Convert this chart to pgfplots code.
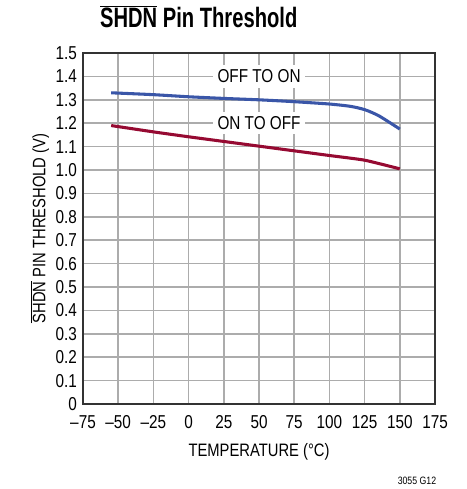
\documentclass[border=0pt]{standalone}
\usepackage{pgfplots}
\pgfplotsset{compat=1.18}
\usepackage{fontspec}
\setmainfont{Liberation Sans}[FakeStretch=0.82]
\newfontfamily\titlefont{Liberation Sans}[FakeStretch=0.72]
\definecolor{offon}{RGB}{58,86,168}
\definecolor{onoff}{RGB}{150,10,50}
\begin{document}
\begin{tikzpicture}
\begin{axis}[
  scale only axis, width=264pt, height=263.25pt,
  xmin=-75, xmax=175, ymin=0, ymax=1.5,
  xtick={-75,-50,...,175},
  xticklabels={\textendash75,\textendash50,\textendash25,0,25,50,75,100,125,150,175},
  ytick={0,0.1,...,1.5},
  yticklabels={0,0.1,0.2,0.3,0.4,0.5,0.6,0.7,0.8,0.9,1.0,1.1,1.2,1.3,1.4,1.5},
  major tick length=0pt,
  grid=major,
  major grid style={gray!65, line width=1.2pt},
  axis line style={black!80, line width=1.2pt},
  ticklabel style={font=\fontsize{14}{15}\selectfont},
  xticklabel style={yshift=-5pt},
  yticklabel style={xshift=-1pt},
  xlabel={TEMPERATURE (°C)},
  ylabel={\(\overline{\mbox{SHDN}}\) PIN THRESHOLD (V)},
  label style={font=\fontsize{13.5}{14}\selectfont},
  xlabel style={yshift=-4.5pt},
  ylabel style={yshift=-2pt},
  clip=false,
]
% frame of the whole picture (466x489 px)
\path (axis cs:-133.95,-0.363) rectangle (axis cs:197,1.7265);
\addplot[offon, line width=2.3pt, smooth, tension=0.4] coordinates {
(-55,1.330) (-25,1.322) (0,1.313) (25,1.306) (50,1.300) (75,1.292) (100,1.282) (115,1.272) (125,1.258) (135,1.232) (150,1.175)
};
\addplot[onoff, line width=2.3pt, smooth, tension=0.3] coordinates {
(-55,1.190) (-25,1.163) (0,1.142) (25,1.122) (50,1.102) (75,1.082) (100,1.062) (125,1.042) (150,1.005)
};
\node[fill=white, inner sep=3.5pt, font=\fontsize{14}{15}\selectfont] at (axis cs:50,1.4) {OFF TO ON};
\node[fill=white, inner sep=3.5pt, font=\fontsize{14}{15}\selectfont] at (axis cs:50,1.2) {ON TO OFF};
\node[anchor=base west, inner sep=0pt, font=\fontsize{21}{22}\titlefont\bfseries\selectfont] at (axis cs:-63,1.607) {\(\overline{\mbox{SHDN}}\) Pin Threshold};
\node[anchor=base east, inner sep=0pt, font=\fontsize{8}{9}\selectfont] at (axis cs:176,-0.345) {3055 G12};
\end{axis}
\end{tikzpicture}
\end{document}
